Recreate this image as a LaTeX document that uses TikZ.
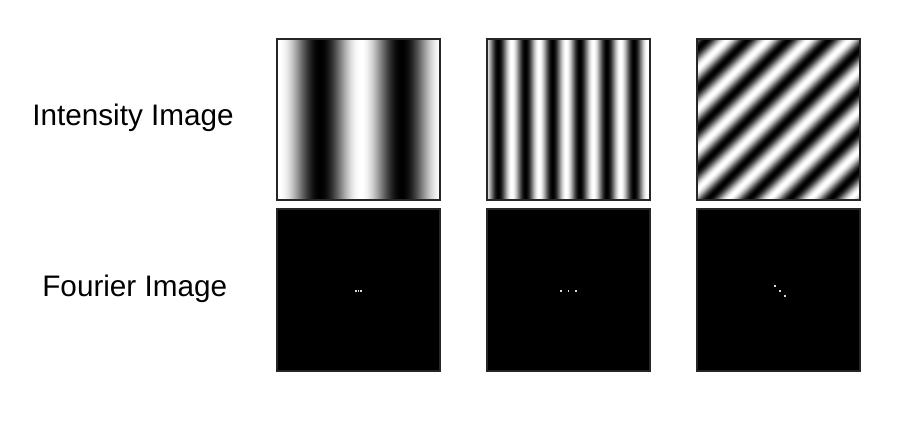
\documentclass[tikz,border=0pt]{standalone}
\usepackage{fontspec}
\setmainfont{Liberation Sans}

% stripe patterns (grey = (1+cos)/2), 100bp squares, panel = middle 50bp
\pgfdeclarefunctionalshading{wavelow}{\pgfpointorigin}{\pgfpoint{100bp}{100bp}}{}{pop 14.4 mul 8.6 sub cos 1 add 2 div dup dup}
\pgfdeclarefunctionalshading{wavehigh}{\pgfpointorigin}{\pgfpoint{100bp}{100bp}}{}{pop 43.2 mul 34.6 add cos 1 add 2 div dup dup}
\pgfdeclarefunctionalshading{wavediag}{\pgfpointorigin}{\pgfpoint{100bp}{100bp}}{}{neg add 28.8 mul 95 add cos 1 add 2 div dup dup}

\begin{document}
\begin{tikzpicture}[x=0.02cm, y=-0.02cm,
			panel_style/.style={rectangle, draw=black!85, line width=0.7pt, inner sep=0pt, outer sep=0pt, minimum width=3.26cm, minimum height=3.22cm},
			spectrum_style/.style={panel_style, fill=black, minimum height=3.24cm},
			dot_style/.style={rectangle, fill=black!15, inner sep=0pt, outer sep=0pt, minimum width=0.035cm, minimum height=0.03cm},
			label_style/.style={anchor=base west, inner sep=0pt, text=black, font=\fontsize{16.9}{20}\selectfont}]
			
			\useasboundingbox[fill=white] (0,0) rectangle (900,437);
			
			\foreach \x/\s/\n in {358.5/wavelow/1,568.5/wavehigh/2,778.5/wavediag/3}{
				\node[panel_style, shade, shading=\s] (int\n) at (\x,119.5) {};
				\node[spectrum_style] (four\n) at (\x,290) {};}
			
			\foreach \x/\y/\n in {356/291/a,358.5/291/b,361/291/c,561/291/d,568.5/291/e,576/291/f,775/286/g,780/291/h,785/296/i}{
				\node[dot_style] (dot\n) at (\x,\y) {};}
			
			\node[label_style] (intlabel) at (32,125) {Intensity Image};
			\node[label_style] (fourlabel) at (42,296) {Fourier Image};
		\end{tikzpicture}
\end{document}
